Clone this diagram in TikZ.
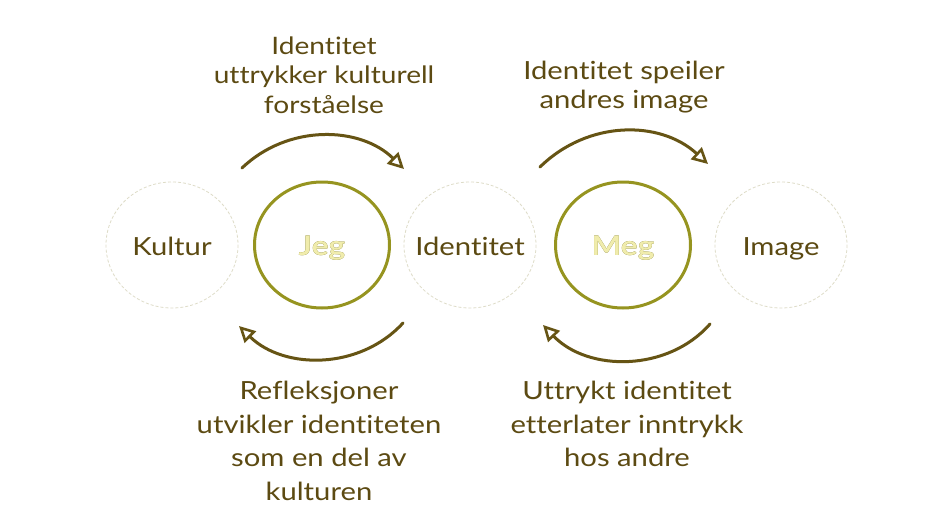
\documentclass[tikz,border=0pt]{standalone}
\usepackage{fontspec}
\setmainfont{Lato}[Ligatures=NoCommon, FakeStretch=1.17]
\usepackage[outline]{contour}
\usetikzlibrary{arrows.meta, shapes.geometric}
\definecolor{txtbrown}{RGB}{92,74,18}
\definecolor{arrowbrown}{RGB}{102,84,20}
\definecolor{ringolive}{RGB}{150,148,32}
\definecolor{wordolive}{RGB}{100,96,14}
\definecolor{wordfill}{RGB}{240,236,172}
\definecolor{faintring}{RGB}{222,220,200}
\contourlength{1.8pt}
\tikzset{
  x=1pt, y=-1pt,
  label/.style={text=txtbrown, font=\fontsize{25}{33.5}\selectfont, align=center, inner sep=0pt},
  outerword/.style={text=txtbrown, font=\fontsize{25}{28}\selectfont, inner sep=0pt,
                    text height=20pt, text depth=0pt},
  outerring/.style={draw=faintring, densely dashed, line width=0.8pt},
  self/.style={ellipse, draw=ringolive, line width=3pt,
               minimum width=135pt, minimum height=126pt, inner sep=0pt,
               font=\bfseries\fontsize{27}{30}\selectfont, text height=20pt, text depth=0pt},
  cycle/.style={draw=arrowbrown, line width=3pt, line cap=round,
                -{Triangle[open, length=16pt, width=16pt, line width=2.6pt]}},
}
\newcommand{\outlined}[1]{\contour{wordolive}{\textcolor{wordfill}{#1}}}
\begin{document}
\begin{tikzpicture}
\useasboundingbox (0,0) rectangle (951,522);
\fill[white] (0,0) rectangle (951,522);

% the outer words with their faint rings
\node[outerword] (kultur) at (172,245) {Kultur};
\node[outerword] (ident)  at (470,245) {Identitet};
\node[outerword] (image)  at (781,245) {Image};
\foreach \n in {kultur, ident, image}
  \draw[outerring] (\n.center) ellipse [x radius=66, y radius=63];

% the two inner selves
\node[self] (jeg) at (322,245) {\outlined{Jeg}};
\node[self] (meg) at (623,245) {\outlined{Meg}};

% arrow end points around the inner circles
\coordinate (tlA) at (242,168); \coordinate (tlB) at (404,169);
\coordinate (trA) at (540,167); \coordinate (trB) at (708,164);
\coordinate (blA) at (403,323); \coordinate (blB) at (239,326);
\coordinate (brA) at (710,324); \coordinate (brB) at (543,325);

\draw[cycle] (tlA) .. controls (288,124) and (360,126) .. (tlB);
\draw[cycle] (trA) .. controls (588,120) and (660,120) .. (trB);
\draw[cycle] (blA) .. controls (360,370) and (284,370) .. (blB);
\draw[cycle] (brA) .. controls (668,372) and (588,372) .. (brB);

% captions
\node[label, font=\fontsize{24}{29.5}\selectfont] (captl) at (324,75)
  {Identitet\\uttrykker kulturell\\forståelse};
\node[label, font=\fontsize{25}{29.5}\selectfont] (captr) at (624,87)
  {Identitet speiler\\andres image};
\node[label] (capbl) at (319,441)
  {Refleksjoner\\utvikler identiteten\\som en del av\\kulturen};
\node[label] (capbr) at (627,424)
  {Uttrykt identitet\\etterlater inntrykk\\hos andre};
\end{tikzpicture}
\end{document}
